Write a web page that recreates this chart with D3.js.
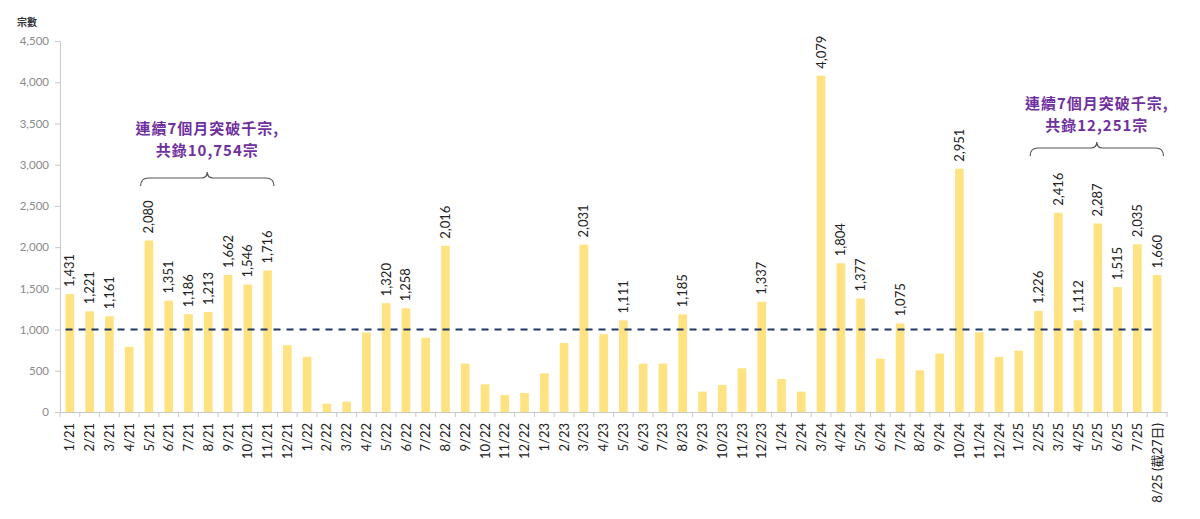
<!DOCTYPE html>
<html><head><meta charset="utf-8">
<script src="https://cdn.jsdelivr.net/npm/d3@7"></script>
<style>body{margin:0;background:#fff}svg{display:block}</style>
</head><body><svg id="c" width="1200" height="519"></svg>
<script>
const categories = ["1/21","2/21","3/21","4/21","5/21","6/21","7/21","8/21","9/21","10/21","11/21","12/21",
"1/22","2/22","3/22","4/22","5/22","6/22","7/22","8/22","9/22","10/22","11/22","12/22",
"1/23","2/23","3/23","4/23","5/23","6/23","7/23","8/23","9/23","10/23","11/23","12/23",
"1/24","2/24","3/24","4/24","5/24","6/24","7/24","8/24","9/24","10/24","11/24","12/24",
"1/25","2/25","3/25","4/25","5/25","6/25","7/25","8/25 (截27日)"];
const values = [1431,1221,1161,790,2080,1351,1186,1213,1662,1546,1716,810,
670,100,125,965,1320,1258,900,2016,587,336,206,230,
470,837,2031,943,1111,587,587,1185,247,328,530,1337,
400,247,4079,1804,1377,647,1075,506,708,2951,967,667,
744,1226,2416,1112,2287,1515,2035,1660];
const yTicks = [0,500,1000,1500,2000,2500,3000,3500,4000,4500];
const threshold = 1000;
const annotations = [
  {from:"5/21", to:"11/21", lines:["連續7個月突破千宗,","共錄10,754宗"], textY:129, braceY:178},
  {from:"2/25", to:"8/25 (截27日)", lines:["連續7個月突破千宗,","共錄12,251宗"], textY:104, braceY:148}
];

const svg = d3.select("#c");
const L=60, R=1167, T=41, B=412;
const x = d3.scaleBand().domain(categories).range([L,R]).paddingInner(0.56).paddingOuter(0.28);
const y = d3.scaleLinear().domain([0,4500]).range([B,T]);
const font = "Lato, 'Noto Sans CJK TC', sans-serif";

// y axis
const ya = svg.append("g").attr("transform",`translate(${L},0)`)
  .call(d3.axisLeft(y).tickValues(yTicks).tickFormat(d3.format(",")).tickSize(5).tickPadding(6));
ya.selectAll("path,line").attr("stroke","#c8c8c8");
ya.selectAll("text").attr("fill","#8a8a8a").style("font-family",font).style("font-size","11.5px");

// x axis
const xa = svg.append("g").attr("transform",`translate(0,${B})`)
  .call(d3.axisBottom(x).tickSize(0).tickPadding(0));
xa.select("path").attr("stroke","#c8c8c8");
xa.selectAll("text").attr("fill","#222").style("font-family",font).style("font-size","13px")
  .attr("text-anchor","end").attr("transform","rotate(-90)").attr("y",0).attr("x",0)
  .attr("dx","-11").attr("dy","0.35em");
// ticks between bands
const boundaries = d3.range(categories.length+1).map(i => L + (R-L)*i/categories.length);
svg.append("g").selectAll("line").data(boundaries).join("line")
  .attr("x1",d=>d).attr("x2",d=>d).attr("y1",B).attr("y2",B+5).attr("stroke","#c8c8c8");

// bars
svg.append("g").selectAll("rect").data(values).join("rect")
  .attr("x",(d,i)=>x(categories[i])).attr("width",x.bandwidth())
  .attr("y",d=>y(d)).attr("height",d=>B-y(d)).attr("fill","#FFE383");

// threshold line
svg.append("line").attr("x1",x(categories[0])).attr("x2",x(categories[categories.length-1]))
  .attr("y1",y(threshold)).attr("y2",y(threshold))
  .attr("stroke","#1F3864").attr("stroke-width",2).attr("stroke-dasharray","7,6");

// data labels
svg.append("g").selectAll("text").data(values.map((v,i)=>({v,i})).filter(d=>d.v>threshold)).join("text")
  .attr("transform",d=>`translate(${x(categories[d.i])+x.bandwidth()/2+4.5},${y(d.v)-7}) rotate(-90)`)
  .attr("text-anchor","start").attr("fill","#222")
  .style("font-family",font).style("font-size","13px")
  .text(d=>d3.format(",")(d.v));

// y title
svg.append("text").attr("x",17).attr("y",26).text("宗數").attr("fill","#333")
  .style("font-family","'Noto Sans CJK TC', sans-serif").style("font-size","10px").style("font-weight","bold");

// annotations
annotations.forEach(a=>{
  const x1 = x(a.from)-4, x2 = x(a.to)+x.bandwidth()+2, xm=(x1+x2)/2, y0=a.braceY;
  svg.append("path").attr("fill","none").attr("stroke","#555").attr("stroke-width",1.2)
    .attr("d",`M${x1},${y0+8} Q${x1},${y0} ${x1+8},${y0} L${xm-6},${y0} Q${xm},${y0} ${xm},${y0-6} Q${xm},${y0} ${xm+6},${y0} L${x2-8},${y0} Q${x2},${y0} ${x2},${y0+8}`);
  a.lines.forEach((t,k)=>{
    svg.append("text").attr("x",xm).attr("y",a.textY+k*22+5).attr("text-anchor","middle")
      .attr("fill","#7030A0").style("font-family","'Noto Sans CJK TC', sans-serif")
      .style("font-size","15px").style("font-weight","bold").style("letter-spacing","1px").text(t);
  });
});
</script></body></html>
